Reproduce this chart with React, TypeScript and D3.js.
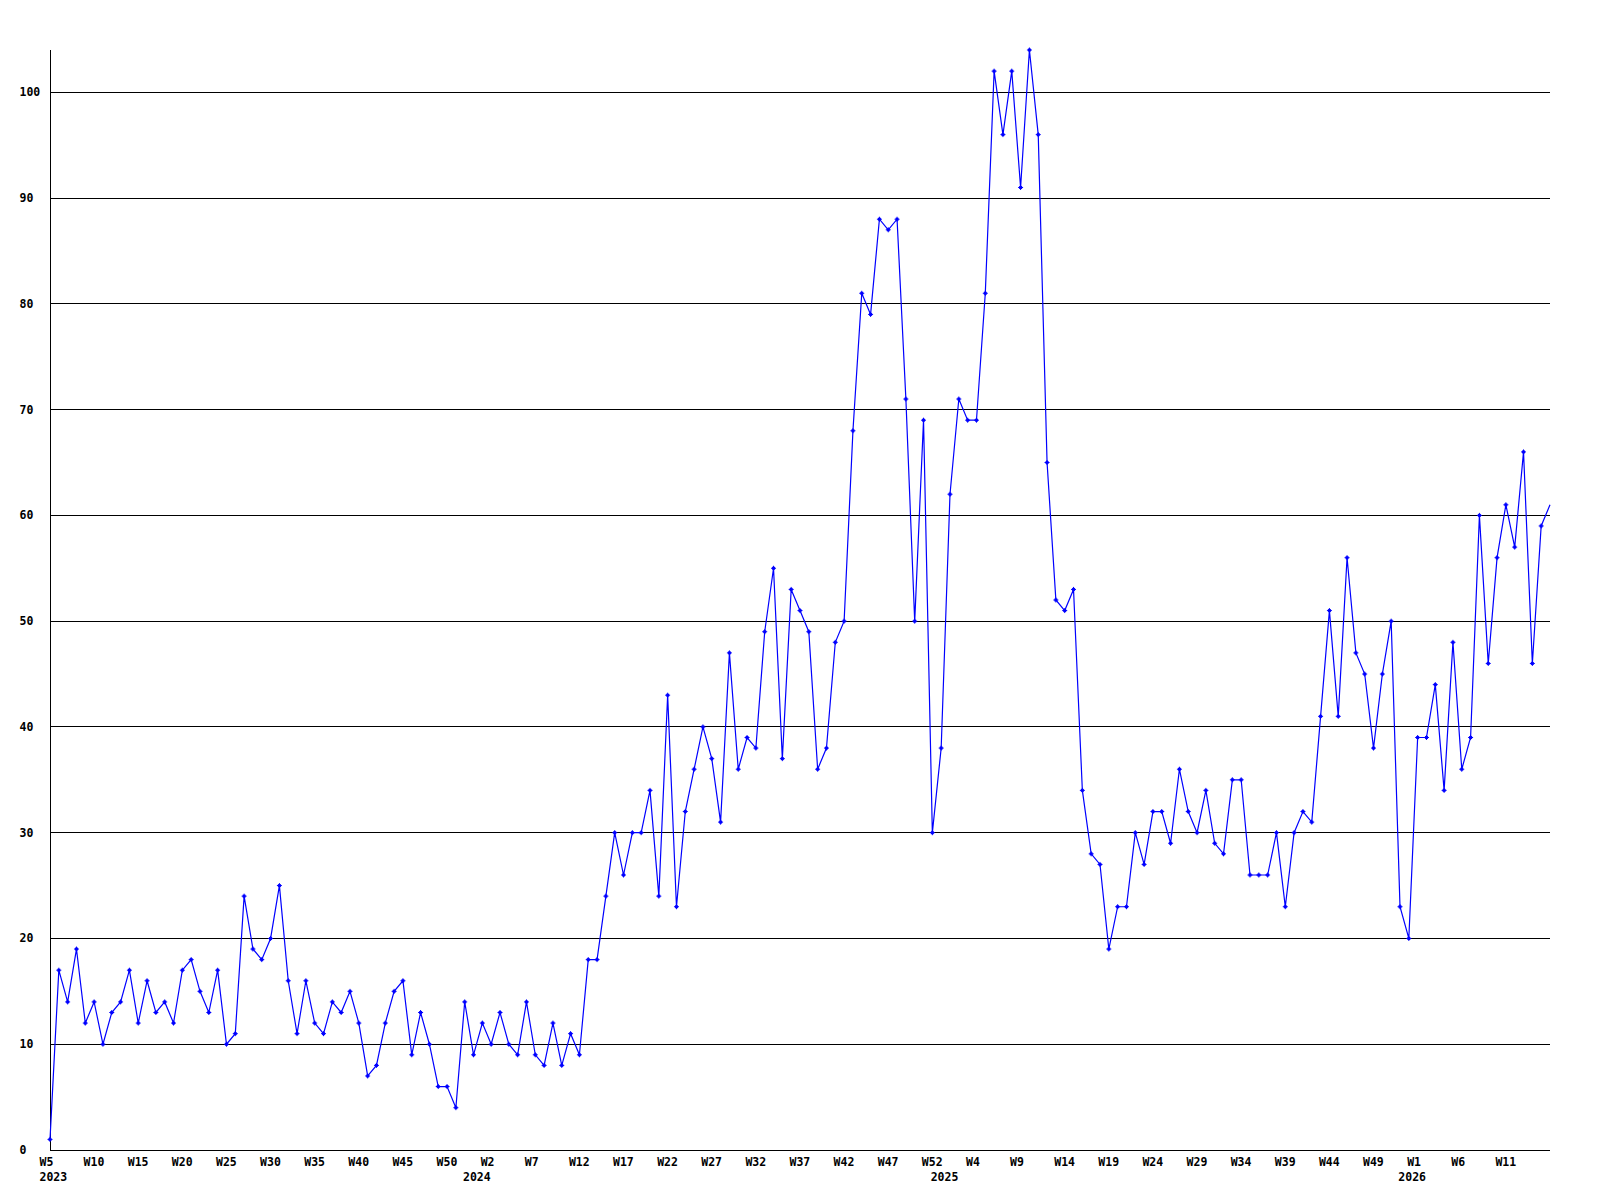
import React from "react";
import * as d3 from "d3";

// Weekly series, first point = 2023 week 5
const values: number[] = [
  1, 17, 14, 19, 12, 14, 10, 13, 14, 17,
  12, 16, 13, 14, 12, 17, 18, 15, 13, 17,
  10, 11, 24, 19, 18, 20, 25, 16, 11, 16,
  12, 11, 14, 13, 15, 12, 7, 8, 12, 15,
  16, 9, 13, 10, 6, 6, 4, 14, 9, 12,
  10, 13, 10, 9, 14, 9, 8, 12, 8, 11,
  9, 18, 18, 24, 30, 26, 30, 30, 34, 24,
  43, 23, 32, 36, 40, 37, 31, 47, 36, 39,
  38, 49, 55, 37, 53, 51, 49, 36, 38, 48,
  50, 68, 81, 79, 88, 87, 88, 71, 50, 69,
  30, 38, 62, 71, 69, 69, 81, 102, 96, 102,
  91, 104, 96, 65, 52, 51, 53, 34, 28, 27,
  19, 23, 23, 30, 27, 32, 32, 29, 36, 32,
  30, 34, 29, 28, 35, 35, 26, 26, 26, 30,
  23, 30, 32, 31, 41, 51, 41, 56, 47, 45,
  38, 45, 50, 23, 20, 39, 39, 44, 34, 48,
  36, 39, 60, 46, 56, 61, 57, 66, 46, 59,
  61,
];

// Years covered: first week number shown and last week number
const years: number[] = [2023, 2024, 2025, 2026];
const yearFirstWeek: number[] = [5, 0, 0, 0];
const yearLastWeek: number[] = [52, 52, 52, 16];

const yTicks: number[] = [0, 10, 20, 30, 40, 50, 60, 70, 80, 90, 100];
const yMax = 104;
const labelEvery = 5;

type Cat = { key: string; year: number; week: number; firstOfYear: boolean };
const categories: Cat[] = [];
years.forEach((yr, i) => {
  for (let w = yearFirstWeek[i]; w <= yearLastWeek[i]; w++) {
    categories.push({ key: `${yr}-W${w}`, year: yr, week: w, firstOfYear: w === yearFirstWeek[i] });
  }
});

const W = 1600;
const H = 1200;
const left = 50;
const right = 1550;
const top = 50;
const bottom = 1150;
const FONT = "'DejaVu Sans Mono', monospace";

export default function App() {
  const n = Math.min(values.length, categories.length);
  const cats = categories.slice(0, n);
  const x = d3.scalePoint<string>().domain(cats.map((c) => c.key)).range([left, right]);
  const y = d3.scaleLinear().domain([0, yMax]).range([bottom, top]);

  const pts = cats.map((c, i) => ({ c, v: values[i], px: x(c.key) as number, py: y(values[i]) }));
  const line = d3
    .line<{ px: number; py: number }>()
    .x((d) => d.px)
    .y((d) => d.py);

  const crisp = (v: number) => Math.floor(v) + 0.5;
  const marker = "M-2.5,0H2.5M0,-2.5V2.5";
  const inside = (p: { px: number }) => p.px < right - 0.5;

  return (
    <svg
      width={W}
      height={H}
      style={{ position: "absolute", left: 0, top: 0, background: "#fff" }}
      xmlns="http://www.w3.org/2000/svg"
    >
      <rect x={0} y={0} width={W} height={H} fill="#fff" />
      {yTicks.map((t) => (
        <g key={t}>
          <line x1={left} x2={right} y1={crisp(y(t))} y2={crisp(y(t))} stroke="#000" strokeWidth={1} shapeRendering="crispEdges" />
          <text x={19.5} y={y(t) + 4} fontFamily={FONT} fontWeight="bold" fontSize={11.5} fill="#000">
            {t}
          </text>
        </g>
      ))}
      <line x1={crisp(left)} x2={crisp(left)} y1={top} y2={bottom + 1} stroke="#000" strokeWidth={1} shapeRendering="crispEdges" />
      {pts.map((p, i) =>
        i % labelEvery === 0 && inside(p) ? (
          <text key={"w" + i} x={p.px - 10.5} y={1166} fontFamily={FONT} fontWeight="bold" fontSize={11.5} fill="#000">
            {"W" + p.c.week}
          </text>
        ) : null
      )}
      {pts.map((p, i) =>
        p.c.firstOfYear ? (
          <text key={"y" + i} x={p.px - 10.5} y={1181} fontFamily={FONT} fontWeight="bold" fontSize={11.5} fill="#000">
            {p.c.year}
          </text>
        ) : null
      )}
      <path d={line(pts) || ""} fill="none" stroke="#0000ff" strokeWidth={1.2} />
      {pts.map((p, i) =>
        inside(p) ? (
          <g key={"m" + i} transform={`translate(${p.px},${p.py})`}>
            <path d={marker} stroke="#0000ff" strokeWidth={1} fill="none" />
            <rect x={-1.5} y={-1.5} width={3} height={3} fill="#0000ff" />
          </g>
        ) : null
      )}
    </svg>
  );
}
